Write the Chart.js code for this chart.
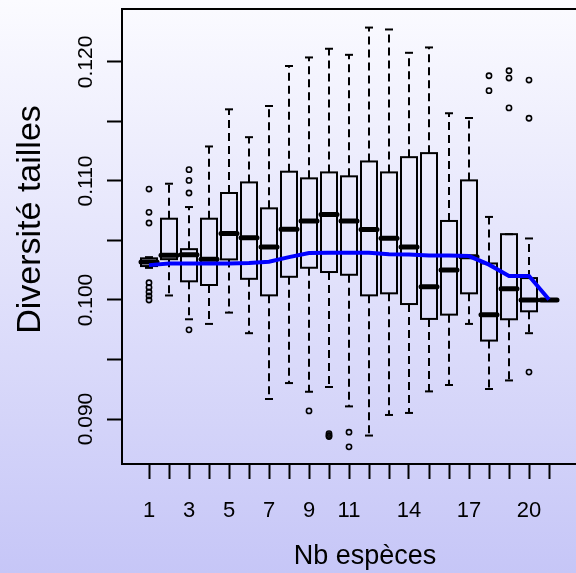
<!DOCTYPE html>
<html>
<head>
<meta charset="utf-8">
<script src="https://cdn.jsdelivr.net/npm/chart.js@4/dist/chart.umd.min.js"></script>
<style>
  html, body { margin: 0; padding: 0; width: 576px; height: 573px; overflow: hidden; }
  body { background: linear-gradient(to bottom, #fbfbff 0%, #c6c6f7 100%); }
  canvas { display: block; }
</style>
</head>
<body>
<canvas id="boxChart" width="620" height="573"></canvas>
<script>
// Nb espèces (categories)
const categories = [1, 2, 3, 4, 5, 6, 7, 8, 9, 10, 11, 12, 13, 14, 15, 16, 17, 18, 19, 20, 21];

// box statistics for each category
const lowerWhisker = [0.1027, 0.10038, 0.09838, 0.09799, 0.09894, 0.09721, 0.09168, 0.09302, 0.09229, 0.09269, 0.09106,
  0.08861, 0.09034, 0.09051, 0.09232, 0.09286, 0.09799, 0.09252, 0.09324, 0.09721, 0.1000];
const lowerQuartile = [0.10285, 0.10343, 0.10157, 0.10126, 0.10341, 0.10178, 0.10039, 0.10195, 0.10271, 0.10235, 0.10212,
  0.10039, 0.10056, 0.09966, 0.09841, 0.09877, 0.10056, 0.09659, 0.09838, 0.09905, 0.1000];
const medians = [0.1032, 0.10377, 0.10381, 0.10343, 0.10558, 0.10522, 0.10446, 0.10595, 0.10664, 0.10718, 0.10664,
  0.10592, 0.10519, 0.10446, 0.10111, 0.10251, 0.10363, 0.09877, 0.10095, 0.1000, 0.1000];
const upperQuartile = [0.1035, 0.10683, 0.10427, 0.10683, 0.10899, 0.10988, 0.10770, 0.11078, 0.11022, 0.11072, 0.11039,
  0.11164, 0.11072, 0.11200, 0.11234, 0.10664, 0.11005, 0.10307, 0.10553, 0.10184, 0.1000];
const upperWhisker = [0.1036, 0.10977, 0.10781, 0.11290, 0.11602, 0.11368, 0.11630, 0.11966, 0.12038, 0.12111, 0.12060,
  0.12289, 0.12273, 0.12077, 0.12122, 0.11569, 0.11529, 0.10698, 0.10553, 0.10517, 0.1000];
const outliers = [
  [0.10932, 0.10737, 0.10647, 0.10145, 0.10106, 0.10067, 0.10034, 0.1000],
  [],
  [0.11095, 0.11005, 0.10899, 0.09749],
  [], [], [], [], [],
  [0.09068],
  [0.08878, 0.08862, 0.08853],
  [0.08889, 0.08766],
  [], [], [], [], [], [],
  [0.11884, 0.11759],
  [0.11926, 0.11865, 0.11614],
  [0.11848, 0.11527, 0.09394],
  []
];

// moyenne (blue line)
const means = [0.10293, 0.10306, 0.10307, 0.10307, 0.10307, 0.10310, 0.10322, 0.10360, 0.10394, 0.10398, 0.10398,
  0.10396, 0.10385, 0.10383, 0.10374, 0.10373, 0.10369, 0.10297, 0.10201, 0.10201, 0.10004];

// ticks
const yTickValues = [0.090, 0.095, 0.100, 0.105, 0.110, 0.115, 0.120];
const yTickLabels = ['0.090', '', '0.100', '', '0.110', '', '0.120'];
const xTickLabels = ['1', '', '3', '', '5', '', '7', '', '9', '', '11', '', '', '14', '', '', '17', '', '', '20', ''];

const FONT = 'Liberation Sans, Arial, sans-serif';

// draws frame + boxes with the chart scales
const boxPlugin = {
  id: 'boxes',
  beforeDatasetsDraw(chart) {
    const { ctx, chartArea, scales: { x, y } } = chart;
    ctx.save();
    ctx.strokeStyle = '#000';
    ctx.lineWidth = 2;
    ctx.strokeRect(chartArea.left, chartArea.top, chartArea.right - chartArea.left, chartArea.bottom - chartArea.top);

    const seg = (x1, y1, x2, y2) => {
      ctx.beginPath();
      ctx.moveTo(x1, y1);
      ctx.lineTo(x2, y2);
      ctx.stroke();
    };

    categories.forEach((c, i) => {
      const cx = x.getPixelForValue(c);
      const half = x.getPixelForValue(c + 0.4) - cx;
      const staple = x.getPixelForValue(c + 0.2) - cx;
      const yLo = y.getPixelForValue(lowerWhisker[i]);
      const yQ1 = y.getPixelForValue(lowerQuartile[i]);
      const yMed = y.getPixelForValue(medians[i]);
      const yQ3 = y.getPixelForValue(upperQuartile[i]);
      const yHi = y.getPixelForValue(upperWhisker[i]);

      ctx.lineWidth = 2;
      ctx.lineCap = 'butt';
      // whiskers
      ctx.setLineDash([8, 5]);
      if (yHi < yQ3) seg(cx, yQ3, cx, yHi);
      if (yLo > yQ1) seg(cx, yQ1, cx, yLo);
      ctx.setLineDash([]);
      // staples
      seg(cx - staple, yHi, cx + staple, yHi);
      seg(cx - staple, yLo, cx + staple, yLo);
      // box
      ctx.strokeRect(cx - half, yQ3, half * 2, yQ1 - yQ3);
      // median
      ctx.lineWidth = 5;
      ctx.lineCap = 'round';
      seg(cx - half, yMed, cx + half, yMed);
    });
    ctx.restore();
  }
};

const outlierPoints = [];
outliers.forEach((list, i) => list.forEach(v => outlierPoints.push({ x: categories[i], y: v })));

const chart = new Chart(document.getElementById('boxChart'), {
  type: 'scatter',
  data: {
    datasets: [{
      type: 'line',
      data: categories.map((c, i) => ({ x: c, y: means[i] })),
      borderColor: '#0000ff',
      borderWidth: 4,
      pointRadius: 0,
      tension: 0,
      fill: false
    }, {
      data: outlierPoints,
      pointStyle: 'circle',
      pointRadius: 2.6,
      borderWidth: 1.6,
      borderColor: '#000',
      backgroundColor: 'rgba(0,0,0,0)'
    }]
  },
  options: {
    responsive: false,
    animation: false,
    devicePixelRatio: 1,
    layout: { padding: { top: 9, right: 12, left: 0, bottom: 0 } },
    plugins: { legend: { display: false }, tooltip: { enabled: false } },
    scales: {
      x: {
        type: 'linear',
        min: -0.35,
        max: 23.95,
        afterBuildTicks: axis => { axis.ticks = categories.map(v => ({ value: v })); },
        afterFit: axis => {
          axis.height = 109;
          axis.paddingLeft = 0; axis.paddingRight = 0;
        },
        grid: { drawOnChartArea: false, drawTicks: true, tickLength: 15, tickWidth: 2, tickColor: '#000' },
        border: { display: false },
        ticks: {
          autoSkip: false,
          maxRotation: 0,
          padding: 19,
          color: '#000',
          font: { family: FONT, size: 22 },
          callback: (value, index) => xTickLabels[index]
        },
        title: {
          display: true,
          text: 'Nb espèces',
          color: '#000',
          font: { family: FONT, size: 27 },
          padding: { top: 0, bottom: 0 }
        }
      },
      y: {
        type: 'linear',
        min: 0.08622,
        max: 0.12445,
        afterBuildTicks: axis => { axis.ticks = yTickValues.map(v => ({ value: v })); },
        afterFit: axis => {
          axis.width = 122;
          axis.paddingTop = 0; axis.paddingBottom = 0;
        },
        grid: { drawOnChartArea: false, drawTicks: true, tickLength: 15, tickWidth: 2, tickColor: '#000' },
        border: { display: false },
        ticks: {
          minRotation: 90,
          maxRotation: 90,
          crossAlign: 'center',
          padding: -5,
          color: '#000',
          font: { family: FONT, size: 21 },
          callback: (value, index) => yTickLabels[index]
        },
        title: {
          display: true,
          text: '\u2002\u2002Diversité tailles',
          color: '#000',
          font: { family: FONT, size: 34 },
          padding: { top: 10, bottom: 0 }
        }
      }
    }
  },
  plugins: [boxPlugin]
});
</script>
</body>
</html>
